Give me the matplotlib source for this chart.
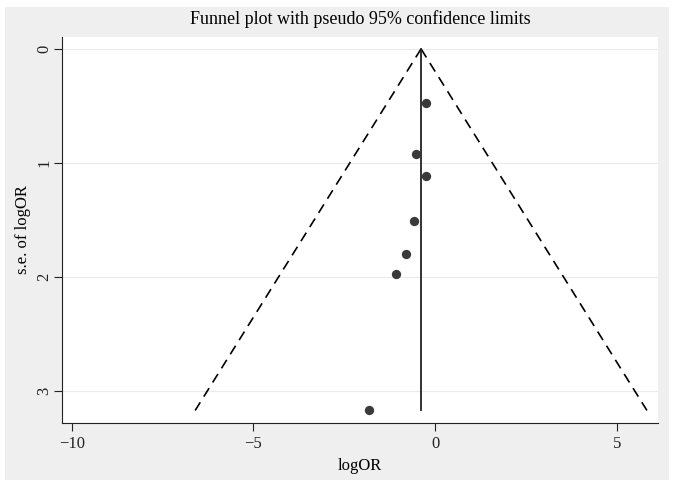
import matplotlib
matplotlib.use("Agg")
import matplotlib.pyplot as plt
import matplotlib.patches as patches
import numpy as np

plt.rcParams['font.family'] = ['Liberation Serif', 'DejaVu Serif']

# study estimates
log_or = [-0.26, -0.52, -0.25, -0.58, -0.80, -1.08, -1.81]
se_log_or = [0.47, 0.92, 1.11, 1.51, 1.80, 1.97, 3.17]
pooled = -0.39
x_ticks = [-10, -5, 0, 5]
y_ticks = [0, 1, 2, 3]

fig = plt.figure(figsize=(6.76, 4.86), dpi=100)
fig.patch.set_facecolor("white")
# stata style grey graph region
fig.patches.append(patches.Rectangle((0.0074, 0.0123), 0.982, 0.973, transform=fig.transFigure,
                                     facecolor="#efefef", edgecolor="none", zorder=-1))

ax = fig.add_axes([0.092, 0.1296, 0.881, 0.7944])
ax.set_facecolor("white")

se_max = max(se_log_or)
se_line = np.array([0, se_max])
# pseudo 95% confidence limits
ax.plot(pooled - 1.96 * se_line, se_line, color="black", linestyle=(0, (6, 4)), linewidth=1.2)
ax.plot(pooled + 1.96 * se_line, se_line, color="black", linestyle=(0, (6, 4)), linewidth=1.2)
ax.plot([pooled, pooled], [0, se_max], color="#222222", linewidth=1.3)

ax.scatter(log_or, se_log_or, s=45, color="#3a3a3a", zorder=3, linewidths=0)

ax.set_xlim(-10.26, 6.12)
ax.set_ylim(3.28, -0.105)
ax.set_xticks(x_ticks)
ax.set_xticklabels(["\u221210", "\u22125", "0", "5"])
ax.set_yticks(y_ticks)
ax.set_yticklabels([str(t) for t in y_ticks], rotation=90, va="center")
ax.grid(axis="y", color="#eaeaea", linewidth=0.8)
ax.set_axisbelow(True)

for side in ["top", "right"]:
    ax.spines[side].set_visible(False)
for side in ["left", "bottom"]:
    ax.spines[side].set_color("#222222")
ax.tick_params(direction="out", length=6, labelsize=12, colors="#222222")
ax.tick_params(axis="y", pad=1)

ax.set_xlabel("logOR", fontsize=12)
ax.set_ylabel("s.e. of logOR", fontsize=12, va="center")
ax.yaxis.set_label_coords(-0.066, 0.5)
ax.set_title("Funnel plot with pseudo 95% confidence limits", fontsize=13, pad=9)

fig.savefig("out.png", dpi=100)
